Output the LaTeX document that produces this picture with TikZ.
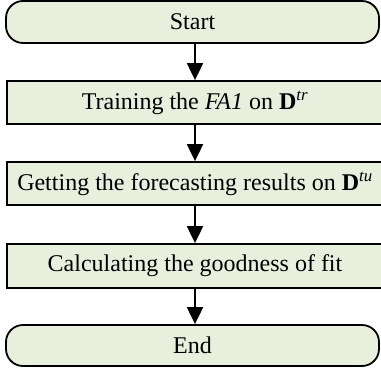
\documentclass[tikz,border=0pt]{standalone}
\usepackage{fontspec}
\setmainfont{Liberation Serif}
\usetikzlibrary{arrows.meta}
\definecolor{boxfill}{RGB}{233,239,221}
\begin{document}
\begin{tikzpicture}[x=1pt,y=-1pt,
  every node/.style={font=\fontsize{24}{28}\selectfont},
  term/.style={draw, line width=1.8pt, fill=boxfill, rounded corners=17pt, inner sep=0pt},
  proc/.style={draw, line width=1.8pt, fill=boxfill, inner sep=0pt, minimum width=376pt},
  arr/.style={line width=2pt, -{Triangle[width=16pt,length=17pt]}}]
\useasboundingbox (0,0) rectangle (381,371);
\node[term, minimum width=373pt, minimum height=42pt] (start) at (192.5,22) {Start};
\node[proc, minimum height=43pt] (p1) at (195,102.5) {Training the \textit{FA1} on \textbf{D}\textsuperscript{\textit{tr}}};
\node[proc, minimum height=43pt] (p2) at (195,183.5) {Getting the forecasting results on \textbf{D}\textsuperscript{\textit{tu}}};
\node[proc, minimum height=44pt] (p3) at (195,266) {Calculating the goodness of fit};
\node[term, minimum width=373pt, minimum height=41pt] (end) at (192.5,345.5) {End};
\draw[arr] (start.south -| p1.north) -- (p1.north);
\draw[arr] (p1.south) -- (p2.north);
\draw[arr] (p2.south) -- (p3.north);
\draw[arr] (p3.south) -- (end.north -| p3.south);
\end{tikzpicture}
\end{document}
